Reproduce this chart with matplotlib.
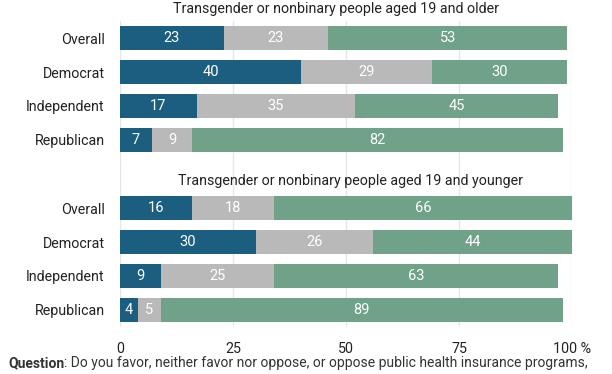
import numpy as np
import matplotlib.pyplot as plt

plt.rcParams['font.family'] = ['Roboto', 'DejaVu Sans']

groups = ['Overall', 'Democrat', 'Independent', 'Republican']
titles = ['Transgender or nonbinary people aged 19 and older',
          'Transgender or nonbinary people aged 19 and younger']
favor_old = [23, 40, 17, 7]
neither_old = [23, 29, 35, 9]
oppose_old = [53, 30, 45, 82]
favor_young = [16, 30, 9, 4]
neither_young = [18, 26, 25, 5]
oppose_young = [66, 44, 63, 89]
ticks = [0, 25, 50, 75, 100]
tick_labels = ['0', '25', '50', '75', '100 %']

colors = ['#1b5e7f', '#b9b9b9', '#6fa288']

fig = plt.figure(figsize=(6.12, 3.74), dpi=100)
ax = fig.add_axes([120/612, 1-327/374, 452/612, 306/374])

pos_old = np.arange(4)
pos_young = np.arange(4) + 5
for pos, series in [(pos_old, [favor_old, neither_old, oppose_old]),
                    (pos_young, [favor_young, neither_young, oppose_young])]:
    left = np.zeros(4)
    for vals, c in zip(series, colors):
        vals = np.array(vals)
        ax.barh(pos, vals, left=left, height=0.7, color=c, zorder=3)
        for y, l, v in zip(pos, left, vals):
            ax.text(l + v/2, y, str(v), color='white', ha='center', va='center',
                    fontsize=10.5, zorder=4)
        left = left + vals

ax.set_xlim(0, 100)
ax.set_ylim(8.5, -0.5)
ax.set_xticks(ticks)
ax.set_xticklabels(tick_labels)
ax.set_yticks(list(pos_old) + list(pos_young))
ax.set_yticklabels(groups + groups)
ax.grid(axis='x', color='#e6e6e6', linewidth=1, zorder=0)
for s in ax.spines.values():
    s.set_visible(False)
ax.tick_params(length=0, labelsize=10.3, colors='#222222')
ax.tick_params(axis='y', pad=11)
ax.tick_params(axis='x', pad=11)

# group titles
ax.text(47.8, -0.85, titles[0], ha='center', va='center', fontsize=10.3,
        color='#222222', clip_on=False)
ax.text(50.9, 4.2, titles[1], ha='center', va='center', fontsize=10.3,
        color='#222222', zorder=5)

t1 = fig.text(8/612, 1-363/374, 'Question', fontweight='bold', fontsize=10,
              color='#333333', va='center')
fig.canvas.draw()
bb = t1.get_window_extent()
fig.text(bb.x1/612, 1-363/374, ': Do you favor, neither favor nor oppose, or oppose public health insurance programs,',
         fontsize=10, color='#333333', va='center')

fig.savefig('out.png', dpi=100)
